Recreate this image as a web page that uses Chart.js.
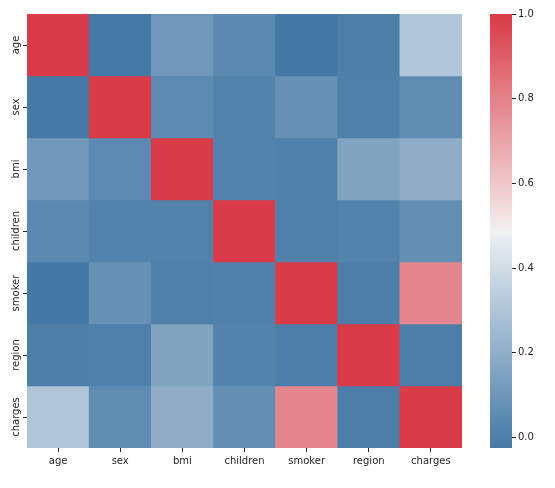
<!DOCTYPE html>
<html lang="en">
<head>
    <meta charset="UTF-8">
    <title>Correlation heatmap</title>
    <script src="https://cdn.jsdelivr.net/npm/chart.js"></script>
    <style>
        body { margin: 0; background: #ffffff; }
        #wrap { position: relative; width: 555px; height: 488px; }
        #heat { position: absolute; left: 0; top: 0; }
        #cbar { position: absolute; left: 490px; top: 0; }
    </style>
</head>
<body>
    <div id="wrap">
        <canvas id="heat" width="555" height="488"></canvas>
        <canvas id="cbar" width="65" height="488"></canvas>
    </div>

    <script>
        // variables of the correlation matrix
        const labels = ['age', 'sex', 'bmi', 'children', 'smoker', 'region', 'charges'];

        // one row per variable
        const rowAge      = [1.000, -0.021, 0.109, 0.042, -0.025, 0.002, 0.299];
        const rowSex      = [-0.021, 1.000, 0.046, 0.017, 0.076, 0.005, 0.057];
        const rowBmi      = [0.109, 0.046, 1.000, 0.013, 0.004, 0.158, 0.198];
        const rowChildren = [0.042, 0.017, 0.013, 1.000, 0.008, 0.017, 0.068];
        const rowSmoker   = [-0.025, 0.076, 0.004, 0.008, 1.000, -0.002, 0.787];
        const rowRegion   = [0.002, 0.005, 0.158, 0.017, -0.002, 1.000, -0.006];
        const rowCharges  = [0.299, 0.057, 0.198, 0.068, 0.787, -0.006, 1.000];
        const rows = [rowAge, rowSex, rowBmi, rowChildren, rowSmoker, rowRegion, rowCharges];

        const cbarTicks = [0.0, 0.2, 0.4, 0.6, 0.8, 1.0];
        const vmin = -0.025;
        const vmax = 1.0;

        // diverging colormap (blue - light - red)
        const stops = [
            [0.0, [69, 121, 165]],
            [0.497, [237, 240, 243]],
            [0.5, [242, 242, 242]],
            [0.503, [244, 238, 238]],
            [1.0, [217, 59, 72]]
        ];

        function cmap(t) {
            t = Math.max(0, Math.min(1, t));
            for (let i = 1; i < stops.length; i++) {
                if (t <= stops[i][0]) {
                    const a = stops[i - 1], b = stops[i];
                    const f = (t - a[0]) / (b[0] - a[0]);
                    const c = a[1].map((v, k) => Math.round(v + f * (b[1][k] - v)));
                    return 'rgb(' + c.join(',') + ')';
                }
            }
            return 'rgb(' + stops[stops.length - 1][1].join(',') + ')';
        }

        function colorFor(v) {
            return cmap((v - vmin) / (vmax - vmin));
        }

        Chart.defaults.font.family = 'DejaVu Sans';
        Chart.defaults.font.size = 10;
        Chart.defaults.color = '#262626';

        const tickColor = '#262626';

        new Chart(document.getElementById('heat'), {
            type: 'bar',
            data: {
                labels: labels,
                datasets: rows.map((row, r) => ({
                    data: row.map(() => [r, r + 1]),
                    backgroundColor: row.map(colorFor),
                    borderWidth: 0,
                    barPercentage: 1.0,
                    categoryPercentage: 1.0
                }))
            },
            options: {
                responsive: false,
                animation: false,
                events: [],
                grouped: false,
                layout: { padding: { top: 14, right: 93, bottom: 0, left: 0 } },
                plugins: { legend: { display: false }, tooltip: { enabled: false } },
                scales: {
                    x: {
                        grid: { display: true, drawOnChartArea: false, offset: false, tickLength: 4, color: tickColor },
                        border: { display: false },
                        ticks: { maxRotation: 0, padding: 3 },
                        afterFit: s => { s.height = 40; }
                    },
                    y: {
                        min: 0,
                        max: 7,
                        reverse: true,
                        grid: { display: true, drawOnChartArea: false, tickLength: 4, color: tickColor },
                        border: { display: false },
                        afterBuildTicks: s => { s.ticks = labels.map((l, i) => ({ value: i + 0.5 })); },
                        ticks: {
                            minRotation: 90,
                            maxRotation: 90,
                            crossAlign: 'center',
                            padding: -13,
                            callback: (v, i) => labels[i]
                        },
                        afterFit: s => { s.width = 27; }
                    }
                }
            }
        });

        // colorbar drawn as a gradient along its own scale
        const gradientBar = {
            id: 'gradientBar',
            beforeDraw(chart) {
                const { ctx, chartArea, scales } = chart;
                const y = scales.y;
                const top = y.getPixelForValue(vmax);
                const bottom = y.getPixelForValue(vmin);
                const g = ctx.createLinearGradient(0, bottom, 0, top);
                for (let i = 0; i <= 50; i++) {
                    g.addColorStop(i / 50, cmap(i / 50));
                }
                ctx.save();
                ctx.fillStyle = g;
                ctx.fillRect(chartArea.left, top, chartArea.right - chartArea.left, bottom - top);
                ctx.restore();
            }
        };

        new Chart(document.getElementById('cbar'), {
            type: 'bar',
            data: { labels: [''], datasets: [{ data: [null] }] },
            options: {
                responsive: false,
                animation: false,
                events: [],
                layout: { padding: { top: 14, right: 0, bottom: 40, left: 0 } },
                plugins: { legend: { display: false }, tooltip: { enabled: false } },
                scales: {
                    x: { display: false },
                    y: {
                        position: 'right',
                        min: vmin,
                        max: vmax,
                        grid: { display: true, drawOnChartArea: false, tickLength: 4, color: tickColor },
                        border: { display: false },
                        afterBuildTicks: s => { s.ticks = cbarTicks.map(v => ({ value: v })); },
                        ticks: { padding: 2, callback: v => v.toFixed(1) },
                        afterFit: s => { s.width = 43; }
                    }
                }
            },
            plugins: [gradientBar]
        });
    </script>
</body>
</html>
